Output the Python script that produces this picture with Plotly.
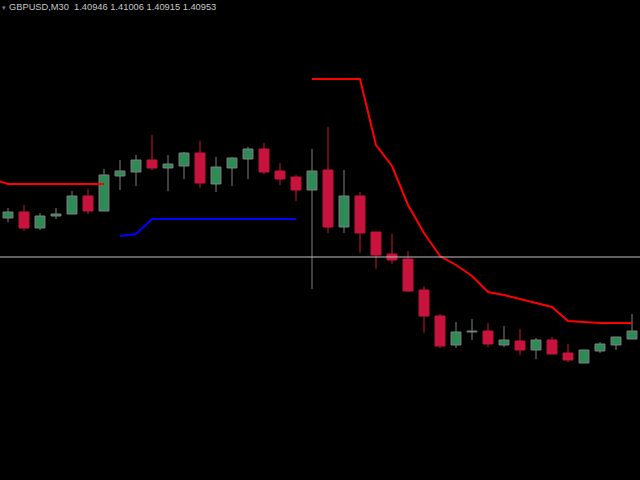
import plotly.graph_objects as go

idx = list(range(40))
opens = [1.41164, 1.41176, 1.41144, 1.41168, 1.41172, 1.41208, 1.41178, 1.41248, 1.41256, 1.41280,
         1.41264, 1.41268, 1.41294, 1.41232, 1.41264, 1.41282, 1.41302, 1.41258, 1.41246, 1.41220,
         1.41260, 1.41146, 1.41208, 1.41136, 1.41092, 1.41082, 1.41020, 1.40968, 1.40910, 1.40936,
         1.40938, 1.40910, 1.40918, 1.40900, 1.40920, 1.40894, 1.40874, 1.40898, 1.40910, 1.40922]
highs = [1.41184, 1.41190, 1.41174, 1.41184, 1.41218, 1.41222, 1.41262, 1.41280, 1.41290, 1.41330,
         1.41290, 1.41296, 1.41318, 1.41286, 1.41286, 1.41306, 1.41314, 1.41274, 1.41250, 1.41302,
         1.41346, 1.41260, 1.41216, 1.41136, 1.41132, 1.41098, 1.41028, 1.40972, 1.40956, 1.40962,
         1.40954, 1.40948, 1.40942, 1.40924, 1.40926, 1.40912, 1.40900, 1.40916, 1.40926, 1.40972]
lows = [1.41156, 1.41138, 1.41140, 1.41162, 1.41172, 1.41172, 1.41178, 1.41220, 1.41228, 1.41260,
        1.41218, 1.41242, 1.41224, 1.41216, 1.41228, 1.41242, 1.41252, 1.41230, 1.41198, 1.41022,
        1.41134, 1.41134, 1.41094, 1.41062, 1.41072, 1.41016, 1.40934, 1.40904, 1.40904, 1.40920,
        1.40906, 1.40906, 1.40890, 1.40882, 1.40892, 1.40876, 1.40874, 1.40894, 1.40900, 1.40922]
closes = [1.41176, 1.41144, 1.41168, 1.41172, 1.41208, 1.41178, 1.41250, 1.41258, 1.41280, 1.41264,
          1.41272, 1.41294, 1.41234, 1.41266, 1.41284, 1.41302, 1.41256, 1.41242, 1.41220, 1.41258,
          1.41146, 1.41208, 1.41134, 1.41090, 1.41080, 1.41018, 1.40968, 1.40908, 1.40936, 1.40938,
          1.40912, 1.40920, 1.40900, 1.40920, 1.40892, 1.40880, 1.40900, 1.40912, 1.40926, 1.40938]

# upper (bearish) stop line and lower (bullish) stop line
red_x = [-1, 0, 1, 2, 3, 4, 5, 6, None] + list(range(19, 40))
red_y = [1.41242, 1.41232, 1.41232, 1.41232, 1.41232, 1.41232, 1.41232, 1.41232, None,
         1.41442, 1.41442, 1.41442, 1.41442, 1.41310, 1.41268, 1.41190, 1.41134, 1.41088, 1.41070,
         1.41048, 1.41016, 1.41010, 1.41002, 1.40994, 1.40986, 1.40958, 1.40956, 1.40954, 1.40954,
         1.40954]
blue_x = list(range(7, 19))
blue_y = [1.41128, 1.41132, 1.41162, 1.41162, 1.41162, 1.41162, 1.41162, 1.41162, 1.41162,
          1.41162, 1.41162, 1.41162]
level = 1.41086

title_text = "GBPUSD,M30\u00a0\u00a01.40946 1.41006 1.40915 1.40953"

BULL_FILL = "#2E8B57"
BULL_LINE = "#808080"
BEAR = "#C8143C"

bull = [i for i in idx if closes[i] >= opens[i]]
bear = [i for i in idx if closes[i] < opens[i]]


def wick_xy(sel):
    xs, ys = [], []
    for i in sel:
        top = max(opens[i], closes[i])
        bot = min(opens[i], closes[i])
        xs += [idx[i], idx[i], None, idx[i], idx[i], None]
        ys += [highs[i], top, None, bot, lows[i], None]
    return xs, ys


fig = go.Figure()
for sel, col in ((bull, BULL_LINE), (bear, BEAR)):
    wx, wy = wick_xy(sel)
    fig.add_trace(go.Scatter(x=wx, y=wy, mode="lines", line=dict(color=col, width=1),
                             hoverinfo="skip", showlegend=False))
for sel, fill, edge in ((bull, BULL_FILL, BULL_LINE), (bear, BEAR, BEAR)):
    fig.add_trace(go.Bar(
        x=[idx[i] for i in sel],
        base=[min(opens[i], closes[i]) for i in sel],
        y=[max(abs(closes[i] - opens[i]), 0.00001) for i in sel],
        width=0.62,
        marker=dict(color=fill, line=dict(color=edge, width=1)),
        hoverinfo="skip", showlegend=False,
    ))
fig.add_trace(go.Scatter(x=red_x, y=red_y, mode="lines", line=dict(color="#FF0000", width=2),
                         hoverinfo="skip", showlegend=False))
fig.add_trace(go.Scatter(x=blue_x, y=blue_y, mode="lines", line=dict(color="#0000FF", width=2),
                         hoverinfo="skip", showlegend=False))
fig.add_hline(y=level, line=dict(color="#C0C0C0", width=1))

fig.add_annotation(text=title_text, xref="paper", yref="paper", x=0.0105, y=1.0,
                   xanchor="left", yanchor="top", showarrow=False,
                   font=dict(family="Liberation Sans", size=9.3, color="#C8C8C8"))
fig.add_annotation(text="\u25be", xref="paper", yref="paper", x=0.0, y=0.995,
                   xanchor="left", yanchor="top", showarrow=False,
                   font=dict(family="DejaVu Sans", size=7, color="#808080"))

fig.update_layout(
    width=640, height=480,
    margin=dict(l=0, r=0, t=0, b=0),
    paper_bgcolor="black", plot_bgcolor="black",
    barmode="overlay", bargap=0,
    xaxis=dict(range=[-0.5, 39.5], visible=False),
    yaxis=dict(range=[1.40640, 1.41600], visible=False),
    showlegend=False,
    hovermode=False,
)
fig.write_html("out.html", config={"displayModeBar": False, "staticPlot": True},
               post_script="document.body.style.margin='0';document.body.style.background='black';")
